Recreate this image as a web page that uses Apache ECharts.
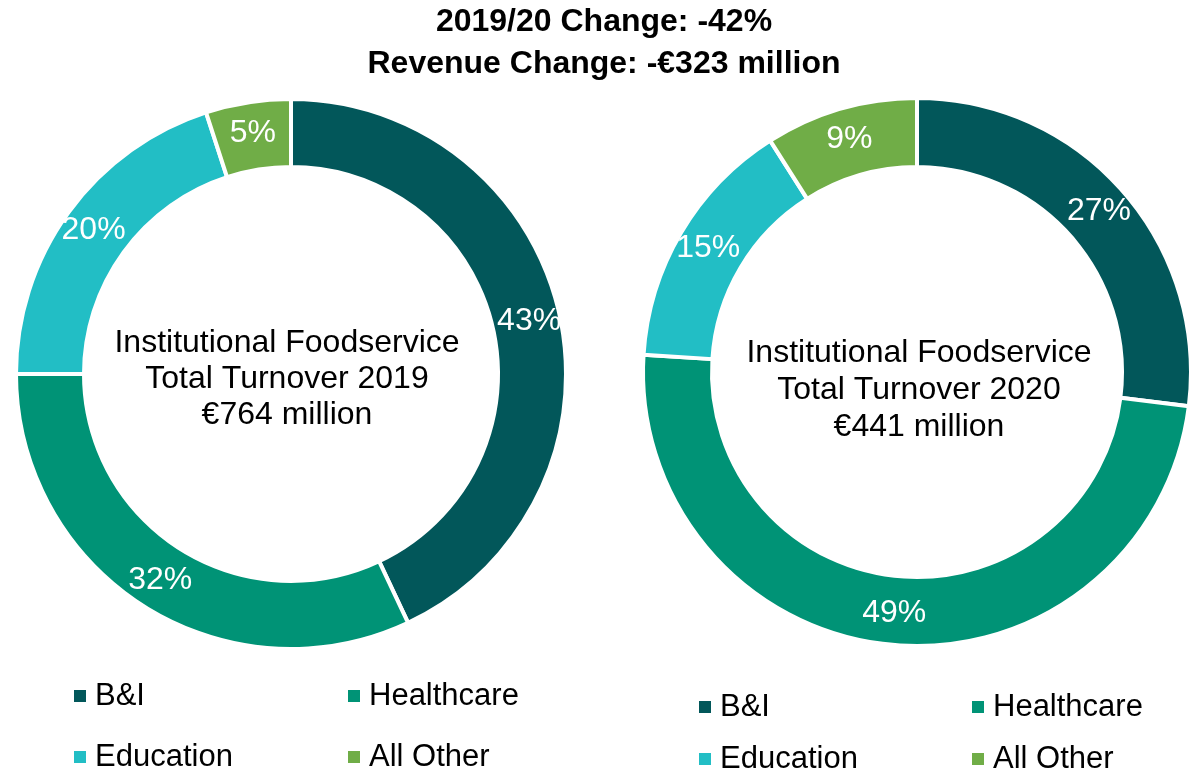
<!DOCTYPE html>
<html>
<head>
<meta charset="utf-8">
<title>Institutional Foodservice Turnover</title>
<script src="https://cdn.jsdelivr.net/npm/echarts@6/dist/echarts.min.js"></script>
<style>
  html, body { margin: 0; padding: 0; background: #ffffff; }
  #chart { width: 1192px; height: 770px; }
</style>
</head>
<body>
<div id="chart"></div>
<script>
// Segment names and colours
const categories = ['B&I', 'Healthcare', 'Education', 'All Other'];
const colors = ['#02575A', '#009376', '#22BEC5', '#70AD47'];

// Share of turnover by segment (%)
const share2019 = [43, 32, 20, 5];
const share2020 = [27, 49, 15, 9];

// Total turnover (€ million)
const years = ['2019', '2020'];
const totals = [764, 441];

const FONT = 'Liberation Sans, Arial, sans-serif';
const FS = 32;

const pctChange = Math.round((totals[1] - totals[0]) / totals[0] * 100);
const revChange = totals[1] - totals[0];

function pieSeries(name, values, center, radius) {
  return {
    name: name,
    type: 'pie',
    center: center,
    radius: radius,
    startAngle: 90,
    clockwise: true,
    silent: true,
    avoidLabelOverlap: false,
    itemStyle: { borderColor: '#ffffff', borderWidth: 4 },
    label: {
      show: true,
      position: 'inside',
      formatter: '{c}%',
      color: '#ffffff',
      fontFamily: FONT,
      fontSize: FS
    },
    labelLine: { show: false },
    data: categories.map((c, i) => ({ name: c, value: values[i], itemStyle: { color: colors[i] } }))
  };
}

// One legend per entry so the two-column grids line up under each ring
function legendItem(name, left, centerY) {
  return {
    data: [name],
    left: left,
    top: centerY - 16,
    padding: 0,
    selectedMode: false,
    icon: 'rect',
    itemWidth: 14,
    itemHeight: 14,
    textStyle: {
      fontFamily: FONT,
      fontSize: 31,
      lineHeight: 32,
      color: '#000000',
      padding: [0, 0, 0, 3]
    }
  };
}

function centerText(x, y, i, lh) {
  return {
    type: 'text',
    x: x,
    y: y,
    style: {
      text: 'Institutional Foodservice\nTotal Turnover ' + years[i] + '\n€' + totals[i] + ' million',
      fontFamily: FONT,
      fontSize: FS,
      lineHeight: lh,
      fill: '#000000',
      align: 'center',
      verticalAlign: 'middle'
    }
  };
}

const chart = echarts.init(document.getElementById('chart'), null, { renderer: 'canvas' });

chart.setOption({
  backgroundColor: '#ffffff',
  animation: false,
  legend: [
    legendItem(categories[0], 72, 696),
    legendItem(categories[1], 346, 696),
    legendItem(categories[2], 72, 757),
    legendItem(categories[3], 346, 757),
    legendItem(categories[0], 697, 707),
    legendItem(categories[1], 970, 707),
    legendItem(categories[2], 697, 759),
    legendItem(categories[3], 970, 759)
  ],
  graphic: [
    {
      type: 'text',
      x: 604,
      y: 43,
      style: {
        text: years[0] + '/' + years[1].slice(2) + ' Change: ' + pctChange + '%\nRevenue Change: -€' + Math.abs(revChange) + ' million',
        fontFamily: FONT,
        fontWeight: 'bold',
        fontSize: FS,
        lineHeight: 42,
        fill: '#000000',
        align: 'center',
        verticalAlign: 'middle'
      }
    },
    centerText(287, 379, 0, 36),
    centerText(919, 390, 1, 37)
  ],
  series: [
    pieSeries('Turnover 2019', share2019, [291, 374], [207, 275]),
    pieSeries('Turnover 2020', share2020, [917, 372], [205, 274])
  ]
});
</script>
</body>
</html>
